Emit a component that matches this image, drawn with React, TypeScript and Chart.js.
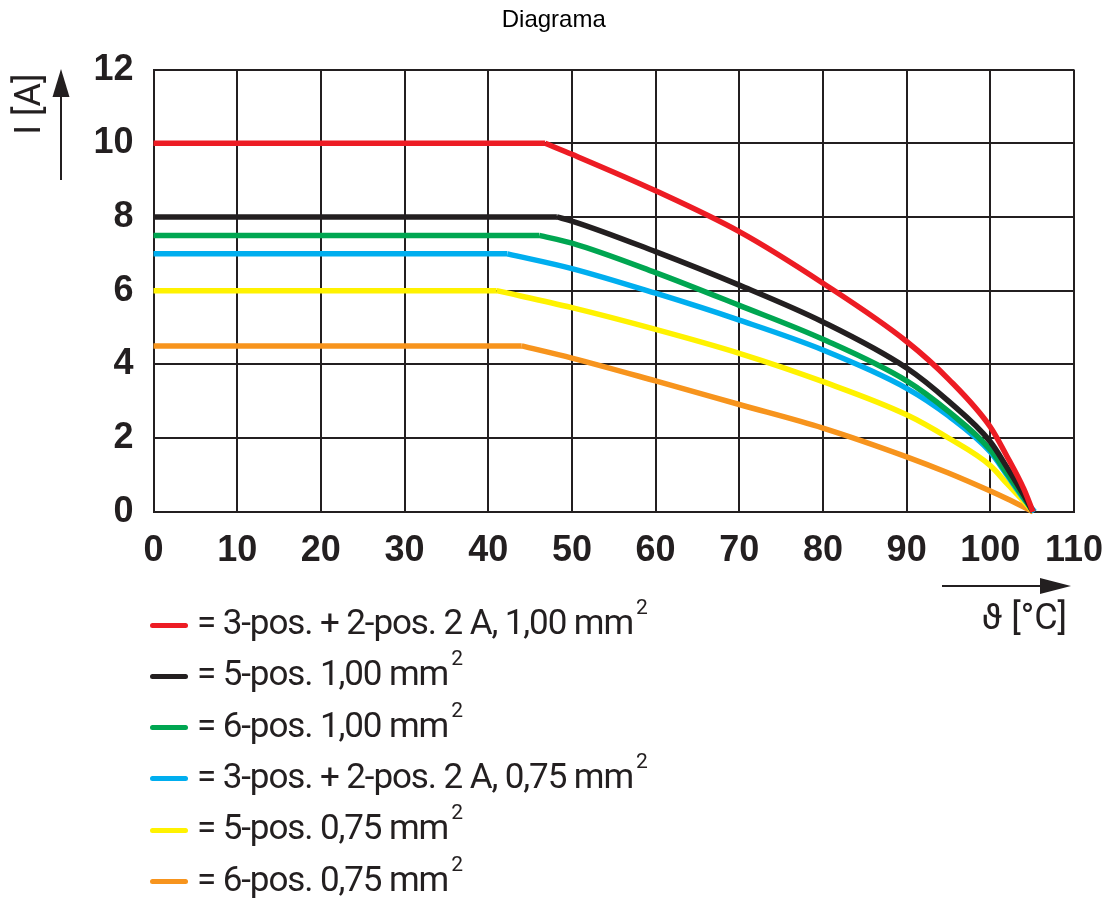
import React, { useEffect, useRef } from "react";
import { Chart, registerables } from "chart.js";

Chart.register(...registerables);

const titleText = "Diagrama";
const yAxisLabel = "I [A]";
const xAxisLabel = "ϑ [°C]";

const xTicksMin = 0;
const xTicksMax = 110;
const xTickStep = 10;
const yTicksMin = 0;
const yTicksMax = 12;
const yTickStep = 2;

const seriesNames = [
  "= 3-pos. + 2-pos. 2 A, 1,00 mm",
  "= 5-pos. 1,00 mm",
  "= 6-pos. 1,00 mm",
  "= 3-pos. + 2-pos. 2 A, 0,75 mm",
  "= 5-pos. 0,75 mm",
  "= 6-pos. 0,75 mm",
];
const seriesColors = ["#ed1c24", "#231f20", "#00a651", "#00aeef", "#fff200", "#f7941d"];

const redX = [0, 46.8, 50, 60, 70, 80, 90, 95, 100, 102, 104, 105.1];
const redY = [10, 10, 9.7, 8.71, 7.6, 6.2, 4.62, 3.6, 2.3, 1.5, 0.62, 0];

const blackX = [0, 48.2, 50, 60, 70, 80, 90, 95, 100, 102, 104, 105.1];
const blackY = [8, 8, 7.89, 7.06, 6.15, 5.15, 3.9, 3.0, 1.9, 1.2, 0.45, 0];

const greenX = [0, 46.1, 50, 60, 70, 80, 90, 95, 100, 102, 104, 105.1];
const greenY = [7.5, 7.5, 7.29, 6.49, 5.6, 4.68, 3.55, 2.72, 1.68, 1.03, 0.38, 0];

const blueX = [0, 42.3, 50, 60, 70, 80, 90, 95, 100, 102, 104, 105.3];
const blueY = [7, 7, 6.6, 5.93, 5.2, 4.39, 3.35, 2.6, 1.62, 0.99, 0.35, 0];

const yellowX = [0, 41, 50, 60, 70, 80, 90, 95, 100, 102, 104, 105.1];
const yellowY = [6, 6, 5.54, 4.95, 4.3, 3.53, 2.63, 2.0, 1.25, 0.76, 0.28, 0];

const orangeX = [0, 44, 50, 60, 70, 80, 90, 95, 100, 102, 105.1];
const orangeY = [4.5, 4.5, 4.17, 3.55, 2.91, 2.27, 1.49, 1.05, 0.56, 0.35, 0];

const seriesX = [redX, blackX, greenX, blueX, yellowX, orangeX];
const seriesY = [redY, blackY, greenY, blueY, yellowY, orangeY];

const INK = "#231f20";

const axisDecor = {
  id: "axisDecor",
  afterDraw(chart: any) {
    const ctx = chart.ctx;
    ctx.save();
    ctx.strokeStyle = INK;
    ctx.fillStyle = INK;
    ctx.lineWidth = 2;
    // y arrow
    ctx.beginPath();
    ctx.moveTo(61, 180);
    ctx.lineTo(61, 92);
    ctx.stroke();
    ctx.beginPath();
    ctx.moveTo(61, 69);
    ctx.lineTo(52.5, 97);
    ctx.lineTo(69.5, 97);
    ctx.closePath();
    ctx.fill();
    // x arrow
    ctx.beginPath();
    ctx.moveTo(942, 586);
    ctx.lineTo(1045, 586);
    ctx.stroke();
    ctx.beginPath();
    ctx.moveTo(1071, 586);
    ctx.lineTo(1040, 578);
    ctx.lineTo(1040, 594);
    ctx.closePath();
    ctx.fill();
    // y label
    ctx.font = "36px Roboto";
    ctx.save();
    ctx.translate(31, 104);
    ctx.rotate(-Math.PI / 2);
    ctx.textAlign = "center";
    ctx.textBaseline = "middle";
    ctx.fillText(yAxisLabel, 0, 0);
    ctx.restore();
    // x label
    ctx.textAlign = "right";
    ctx.textBaseline = "alphabetic";
    ctx.font = "36px Roboto";
    ctx.fillText(xAxisLabel, 1067, 629);
    ctx.restore();
  },
};

export default function App() {
  const ref = useRef<HTMLCanvasElement | null>(null);

  useEffect(() => {
    if (!ref.current) return;
    const base = (i: number) => ({
      borderColor: seriesColors[i],
      backgroundColor: seriesColors[i],
      borderWidth: 5.5,
      pointRadius: 0,
      fill: false,
      clip: false as any,
      borderJoinStyle: "round" as const,
      borderCapStyle: "butt" as const,
    });
    const datasets: any[] = [];
    seriesNames.forEach((name, i) => {
      const pts = seriesX[i].map((x, j) => ({ x, y: seriesY[i][j] }));
      // descending (curved) part, smooth
      datasets.push({
        ...base(i),
        label: name,
        data: pts.slice(1),
        cubicInterpolationMode: "monotone",
        order: i,
      });
      // flat part
      datasets.push({
        ...base(i),
        label: name + " flat",
        data: pts.slice(0, 2),
        tension: 0,
        order: i,
      });
    });
    const chart = new Chart(ref.current, {
      type: "line",
      data: { datasets },
      options: {
        animation: false,
        responsive: false,
        devicePixelRatio: 1,
        layout: { padding: { left: 33.5, right: 34, top: 0, bottom: 332.3 } },
        plugins: {
          legend: { display: false },
          tooltip: { enabled: false },
          title: {
            display: true,
            text: titleText,
            color: "#000",
            font: { family: "Liberation Sans, Arial", size: 24, weight: "normal", lineHeight: 1 },
            padding: { top: 8, bottom: 37.6 },
          },
        },
        scales: {
          x: {
            type: "linear",
            min: xTicksMin,
            max: xTicksMax,
            afterFit: (s: any) => {
              s.height = 60;
              s.paddingLeft = 0;
              s.paddingRight = 0;
            },
            ticks: {
              stepSize: xTickStep,
              padding: 18,
              color: INK,
              font: { family: "Liberation Sans, Arial", size: 36, weight: "bold" },
              maxRotation: 0,
            },
            grid: { color: INK, lineWidth: 2, drawTicks: false },
            border: { display: true, color: INK, width: 2 },
          },
          y: {
            type: "linear",
            min: yTicksMin,
            max: yTicksMax,
            afterFit: (s: any) => {
              s.width = 120;
              s.paddingTop = 0;
              s.paddingBottom = 0;
            },
            ticks: {
              stepSize: yTickStep,
              padding: 20,
              color: INK,
              font: { family: "Liberation Sans, Arial", size: 36, weight: "bold" },
            },
            grid: { color: INK, lineWidth: 2, drawTicks: false },
            border: { display: true, color: INK, width: 2 },
          },
        },
      },
      plugins: [axisDecor],
    });
    return () => chart.destroy();
  }, []);

  return (
    <div style={{ position: "absolute", left: 0, top: 0, width: 1108, height: 904, background: "#fff" }}>
      <canvas ref={ref} width={1108} height={904} style={{ width: 1108, height: 904, display: "block" }} />
      <div
        style={{
          position: "absolute",
          left: 150,
          top: 599.4,
          fontFamily: "Roboto",
          fontSize: 35,
          letterSpacing: -1.1,
          color: INK,
        }}
      >
        {seriesNames.map((name, i) => (
          <div key={i} style={{ display: "flex", alignItems: "center", height: 51.3, whiteSpace: "nowrap" }}>
            <div
              style={{
                width: 38,
                height: 5,
                borderRadius: 3,
                background: seriesColors[i],
                marginRight: 9,
                flex: "none",
              }}
            />
            <span style={{ lineHeight: "40px" }}>
              {name}
              <span style={{ fontSize: 21, position: "relative", top: -20, marginLeft: 3, letterSpacing: 0 }}>2</span>
            </span>
          </div>
        ))}
      </div>
    </div>
  );
}
